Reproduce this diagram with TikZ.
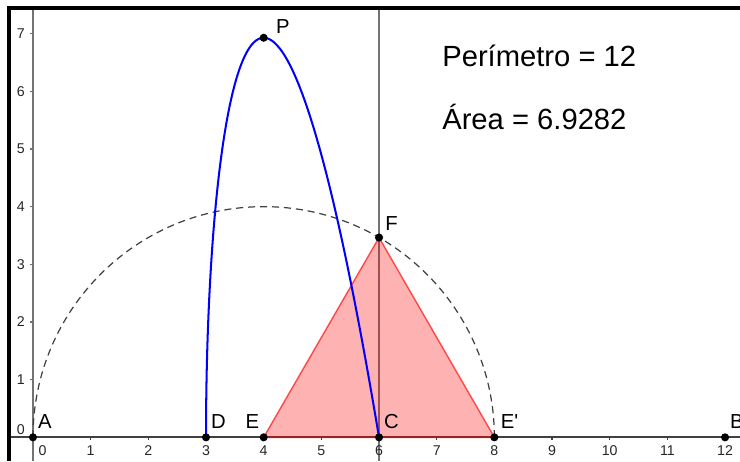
\documentclass[tikz,border=0pt]{standalone}
\usepackage{fontspec}
\newfontfamily\ggb{Liberation Sans}
\begin{document}
\begin{tikzpicture}[every node/.style={font=\ggb\fontsize{10}{12}\selectfont, inner sep=0pt},
    guide/.style={black!55, line width=0.7pt},
    axisline/.style={black!75, line width=1pt},
    ticklbl/.style={font=\ggb\fontsize{7}{8}\selectfont, black!85},
    ptlabel/.style={anchor=base west},
    tri/.style={fill=red, fill opacity=0.3, draw=red, draw opacity=0.65, line width=0.7pt},
    circ/.style={black!75, line width=0.6pt, dash pattern=on 3.5pt off 2.4pt},
    bigtxt/.style={font=\ggb\fontsize{14.4}{17}\selectfont, anchor=base west}]
  \useasboundingbox (-0.572,-0.411) rectangle (12.259,7.583);
  % points
  \coordinate (A) at (0,0);
  \coordinate (D) at (3,0);
  \coordinate (E) at (4,0);
  \coordinate (C) at (6,0);
  \coordinate (Eb) at (8,0);
  \coordinate (B) at (12,0);
  \coordinate (F) at (6,3.4641);
  \coordinate (P) at (4,6.9282);
  % axes and guide line
  \draw[guide] (0,-0.411) -- (0,7.444);
  \draw[guide] (6,-0.411) -- (6,7.444);
  \draw[axisline] (-0.416,0) -- (12.259,0);
  \foreach \x in {1,...,12} {\draw[axisline,line width=0.6pt] (\x,0) -- (\x,-0.05); \node[ticklbl] (tx\x) at (\x,-0.229) {\x};}
  \node[ticklbl] (tx0) at (0.168,-0.229) {0};
  \foreach \y in {1,...,7} {\draw[guide] (0,\y) -- (-0.05,\y); \node[ticklbl,anchor=east] (ty\y) at (-0.135,\y) {\y};}
  \node[ticklbl,anchor=east] (ty0) at (-0.135,0.135) {0};
  % triangle and circle
  \filldraw[tri] (E) -- (F) -- (Eb) -- cycle;
  \draw[circ] (A) arc[start angle=180, end angle=0, radius=4];
  % area curve
  \draw[blue, line width=1pt] plot[variable=\t, domain=0:1.7320508, samples=90, smooth] ({3+\t*\t},{3.4641016*\t*(3-\t*\t)});
  % dots
  \foreach \p in {A,D,E,C,Eb,B,F,P} {\fill (\p) circle (2pt);}
  % labels
  \foreach \p in {A,D,C,B} {\node[ptlabel] (l\p) at ([shift={(0.08,0.16)}]\p) {\p};}
  \node[ptlabel] (lEb) at ([shift={(0.104,0.16)}]Eb) {E\textquotesingle};
  \node[anchor=base east] (lE) at ([shift={(-0.07,0.16)}]E) {E};
  \node[ptlabel] (lF) at ([shift={(0.104,0.12)}]F) {F};
  \node[ptlabel] (lP) at ([shift={(0.208,0.07)}]P) {P};
  % frame
  \draw[line width=1.5pt] (-0.416,-0.411) -- (-0.416,7.444) -- (12.259,7.444);
  % values
  \node[bigtxt] (per) at (7.09,6.435) {Perímetro = 12};
  \node[bigtxt] (area) at (7.09,5.343) {Área = 6.9282};
\end{tikzpicture}
\end{document}
